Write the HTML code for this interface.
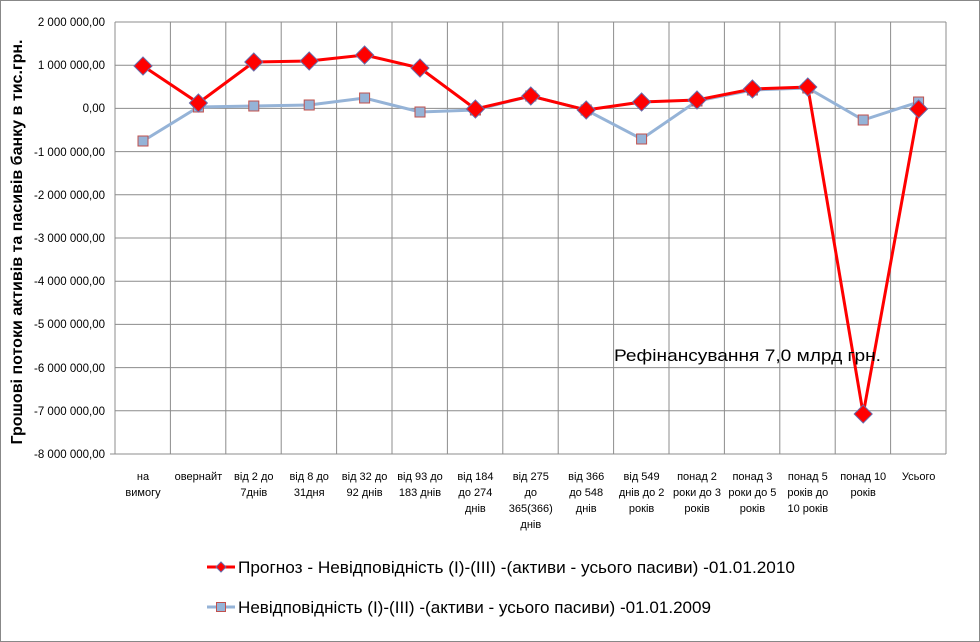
<!DOCTYPE html>
<html><head><meta charset="utf-8"><style>
body{margin:0;background:#fff}
svg{display:block;font-family:"Liberation Sans",sans-serif}
</style></head><body>
<svg width="980" height="642" viewBox="0 0 980 642">
<rect x="0.5" y="0.5" width="979" height="641" fill="#fff" stroke="#888"/>
<g stroke="#8c8c8c" stroke-width="1">
<line x1="115" y1="22" x2="946" y2="22"/><line x1="115" y1="65.2" x2="946" y2="65.2"/><line x1="115" y1="108.4" x2="946" y2="108.4"/><line x1="115" y1="151.6" x2="946" y2="151.6"/><line x1="115" y1="194.8" x2="946" y2="194.8"/><line x1="115" y1="238" x2="946" y2="238"/><line x1="115" y1="281.2" x2="946" y2="281.2"/><line x1="115" y1="324.4" x2="946" y2="324.4"/><line x1="115" y1="367.6" x2="946" y2="367.6"/><line x1="115" y1="410.8" x2="946" y2="410.8"/><line x1="110" y1="454" x2="946" y2="454"/>
<line x1="115" y1="22" x2="115" y2="454"/><line x1="170.4" y1="22" x2="170.4" y2="454"/><line x1="225.8" y1="22" x2="225.8" y2="454"/><line x1="281.2" y1="22" x2="281.2" y2="454"/><line x1="336.6" y1="22" x2="336.6" y2="454"/><line x1="392" y1="22" x2="392" y2="454"/><line x1="447.4" y1="22" x2="447.4" y2="454"/><line x1="502.8" y1="22" x2="502.8" y2="454"/><line x1="558.2" y1="22" x2="558.2" y2="454"/><line x1="613.6" y1="22" x2="613.6" y2="454"/><line x1="669" y1="22" x2="669" y2="454"/><line x1="724.4" y1="22" x2="724.4" y2="454"/><line x1="779.8" y1="22" x2="779.8" y2="454"/><line x1="835.2" y1="22" x2="835.2" y2="454"/><line x1="890.6" y1="22" x2="890.6" y2="454"/><line x1="946" y1="22" x2="946" y2="454"/>
</g>
<g font-size="11.5" text-anchor="end" fill="#000">
<text x="105" y="26">2 000 000,00</text><text x="105" y="69">1 000 000,00</text><text x="105" y="112">0,00</text><text x="105" y="156">-1 000 000,00</text><text x="105" y="199">-2 000 000,00</text><text x="105" y="242">-3 000 000,00</text><text x="105" y="285">-4 000 000,00</text><text x="105" y="328">-5 000 000,00</text><text x="105" y="372">-6 000 000,00</text><text x="105" y="415">-7 000 000,00</text><text x="105" y="458">-8 000 000,00</text>
</g>
<text transform="translate(22,242) rotate(-90)" font-size="16" font-weight="bold" text-anchor="middle" textLength="405" lengthAdjust="spacingAndGlyphs">Грошові потоки активів та пасивів банку в тис.грн.</text>
<g font-size="11" text-anchor="middle">
<text x="143" y="480">на</text><text x="143" y="496">вимогу</text>
<text x="198.4" y="480">овернайт</text>
<text x="253.8" y="480">від 2 до</text><text x="253.8" y="496">7днів</text>
<text x="309.2" y="480">від 8 до</text><text x="309.2" y="496">31дня</text>
<text x="364.6" y="480">від 32 до</text><text x="364.6" y="496">92 днів</text>
<text x="420" y="480">від 93 до</text><text x="420" y="496">183 днів</text>
<text x="475.4" y="480">від 184</text><text x="475.4" y="496">до 274</text><text x="475.4" y="512">днів</text>
<text x="530.8" y="480">від 275</text><text x="530.8" y="496">до</text><text x="530.8" y="512">365(366)</text><text x="530.8" y="528">днів</text>
<text x="586.2" y="480">від 366</text><text x="586.2" y="496">до 548</text><text x="586.2" y="512">днів</text>
<text x="641.6" y="480">від 549</text><text x="641.6" y="496">днів до 2</text><text x="641.6" y="512">років</text>
<text x="697" y="480">понад 2</text><text x="697" y="496">роки до 3</text><text x="697" y="512">років</text>
<text x="752.4" y="480">понад 3</text><text x="752.4" y="496">роки до 5</text><text x="752.4" y="512">років</text>
<text x="807.8" y="480">понад 5</text><text x="807.8" y="496">років до</text><text x="807.8" y="512">10 років</text>
<text x="863.2" y="480">понад 10</text><text x="863.2" y="496">років</text>
<text x="918.6" y="480">Усього</text>
</g>
<polyline fill="none" stroke="#95b3d7" stroke-width="3" points="143,141 198.4,107 253.8,106 309.2,105 364.6,98 420,112 475.4,110 530.8,96 586.2,110 641.6,139 697,101 752.4,90 807.8,88 863.2,120 918.6,102"/>
<polyline fill="none" stroke="#f00" stroke-width="3" points="143,66 198.4,103 253.8,62 309.2,61 364.6,55 420,68 475.4,109 530.8,96 586.2,110 641.6,102 697,100 752.4,89 807.8,87 863.2,414 918.6,109"/>
<g fill="#95b3d7" stroke="#c0504d" stroke-width="1">
<rect x="138" y="136" width="10" height="10"/><rect x="193.4" y="102" width="10" height="10"/><rect x="248.8" y="101" width="10" height="10"/><rect x="304.2" y="100" width="10" height="10"/><rect x="359.6" y="93" width="10" height="10"/><rect x="415" y="107" width="10" height="10"/><rect x="470.4" y="105" width="10" height="10"/><rect x="525.8" y="91" width="10" height="10"/><rect x="581.2" y="105" width="10" height="10"/><rect x="636.6" y="134" width="10" height="10"/><rect x="692" y="96" width="10" height="10"/><rect x="747.4" y="85" width="10" height="10"/><rect x="802.8" y="83" width="10" height="10"/><rect x="858.2" y="115" width="10" height="10"/><rect x="913.6" y="97" width="10" height="10"/>
</g>
<g fill="#f00" stroke="#6a6aa8" stroke-width="1">
<path d="M143 57l9 9-9 9-9-9z"/><path d="M198.4 94l9 9-9 9-9-9z"/><path d="M253.8 53l9 9-9 9-9-9z"/><path d="M309.2 52l9 9-9 9-9-9z"/><path d="M364.6 46l9 9-9 9-9-9z"/><path d="M420 59l9 9-9 9-9-9z"/><path d="M475.4 100l9 9-9 9-9-9z"/><path d="M530.8 87l9 9-9 9-9-9z"/><path d="M586.2 101l9 9-9 9-9-9z"/><path d="M641.6 93l9 9-9 9-9-9z"/><path d="M697 91l9 9-9 9-9-9z"/><path d="M752.4 80l9 9-9 9-9-9z"/><path d="M807.8 78l9 9-9 9-9-9z"/><path d="M863.2 405l9 9-9 9-9-9z"/><path d="M918.6 100l9 9-9 9-9-9z"/>
</g>
<text x="614" y="361" font-size="17" textLength="267" lengthAdjust="spacingAndGlyphs">Рефінансування  7,0 млрд грн.</text>
<line x1="207" y1="567" x2="235" y2="567" stroke="#f00" stroke-width="3"/>
<path d="M221 562l5 5-5 5-5-5z" fill="#f00" stroke="#6a6aa8"/>
<text x="238" y="573" font-size="17" textLength="557" lengthAdjust="spacingAndGlyphs">Прогноз - Невідповідність (І)-(ІІІ) -(активи - усього пасиви) -01.01.2010</text>
<line x1="207" y1="607" x2="235" y2="607" stroke="#95b3d7" stroke-width="3"/>
<rect x="216.5" y="602.5" width="9" height="9" fill="#95b3d7" stroke="#c0504d"/>
<text x="238" y="613" font-size="17" textLength="473" lengthAdjust="spacingAndGlyphs">Невідповідність (І)-(ІІІ) -(активи - усього пасиви) -01.01.2009</text>
</svg>
</body></html>
